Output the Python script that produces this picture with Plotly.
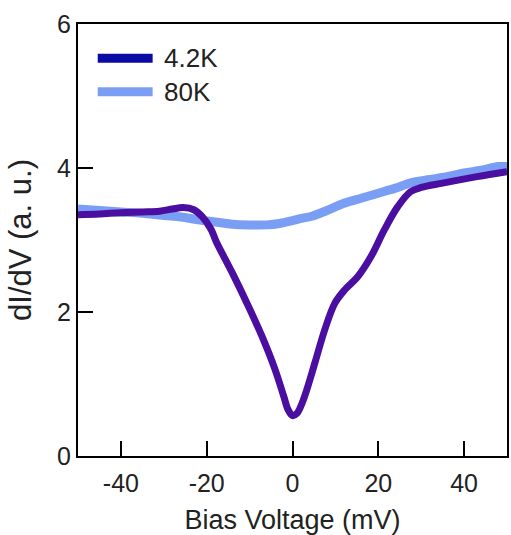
import plotly.graph_objects as go

# 4.2K curve
x_42 = [-50, -45, -40, -35, -31, -28, -25.5, -23, -21, -19, -17.8, -14, -10.2, -7.1, -4, -2, -1, 0, 1, 2, 3, 5.2, 7.5, 9.85, 12.2, 15.2, 18.3, 21.4, 24.5, 27.5, 30, 35, 43, 50]
y_42 = [3.35, 3.36, 3.38, 3.39, 3.40, 3.43, 3.45, 3.42, 3.32, 3.15, 2.98, 2.54, 2.07, 1.66, 1.19, 0.82, 0.64, 0.56, 0.59, 0.70, 0.86, 1.29, 1.75, 2.12, 2.31, 2.49, 2.77, 3.14, 3.46, 3.67, 3.73, 3.79, 3.88, 3.95]

# 80K curve
x_80 = [-50, -45, -40, -35, -30, -26, -22, -18, -14, -10, -6, -3, 0, 2, 4.5, 8, 12, 16, 20, 24, 28, 32, 36, 40, 44, 48, 50]
y_80 = [3.43, 3.41, 3.39, 3.37, 3.34, 3.32, 3.28, 3.25, 3.22, 3.21, 3.21, 3.23, 3.27, 3.30, 3.33, 3.41, 3.51, 3.58, 3.65, 3.72, 3.80, 3.84, 3.88, 3.93, 3.97, 4.02, 4.02]

labels = ["4.2K", "80K"]
x_ticks = [-40, -20, 0, 20, 40]
y_ticks = [0, 2, 4, 6]

FONT = "Liberation Sans, Arial, sans-serif"
TXT = "#222222"
C42_LINE = "#4A0EA0"
C42_LEG = "#0A0AA5"
C80 = "#7B9EF5"

fig = go.Figure()
fig.add_trace(go.Scatter(x=x_80, y=y_80, mode="lines", line=dict(color=C80, width=9, shape="spline"), showlegend=False))
fig.add_trace(go.Scatter(x=x_42, y=y_42, mode="lines", line=dict(color=C42_LINE, width=7, shape="spline"), showlegend=False))

# manual legend
leg_y = [0.921, 0.843]
leg_c = [C42_LEG, C80]
for lab, yy, cc in zip(labels, leg_y, leg_c):
    fig.add_shape(type="line", xref="paper", yref="paper", x0=0.046, x1=0.174, y0=yy, y1=yy,
                  line=dict(color=cc, width=9))
    fig.add_annotation(xref="paper", yref="paper", x=0.195, y=yy, text=lab, showarrow=False,
                       xanchor="left", yanchor="middle", font=dict(family=FONT, size=26, color=TXT))

axis_common = dict(showline=True, linecolor="black", linewidth=2, mirror=True,
                   ticks="inside", ticklen=15, tickwidth=2, tickcolor="black",
                   showgrid=False, zeroline=False,
                   tickfont=dict(family=FONT, size=25, color=TXT))

fig.update_xaxes(range=[-50, 50], tickvals=x_ticks, ticktext=[str(v) for v in x_ticks],
                 ticklabelstandoff=4,
                 title=dict(text="Bias Voltage (mV)", font=dict(family=FONT, size=27, color=TXT), standoff=14),
                 **axis_common)
fig.update_yaxes(range=[0, 6], tickvals=y_ticks,
                 title=dict(text="dI/dV (a. u.)", font=dict(family=FONT, size=31, color=TXT), standoff=16),
                 **axis_common)

fig.update_layout(width=511, height=535, margin=dict(l=78, r=2, t=24, b=79),
                  plot_bgcolor="white", paper_bgcolor="white", showlegend=False)

fig.write_html("out.html")
